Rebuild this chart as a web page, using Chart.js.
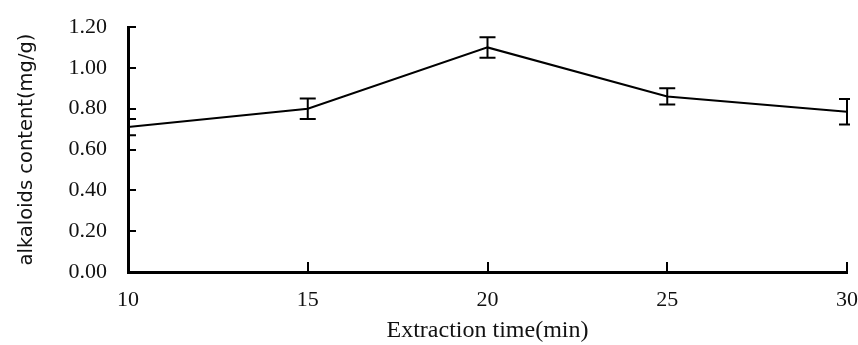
<!DOCTYPE html>
<html>
<head>
<meta charset="utf-8">
<script src="https://cdn.jsdelivr.net/npm/chart.js@4"></script>
<style>
  html, body { margin: 0; padding: 0; background: #fff; }
  #wrap { width: 858px; height: 345px; position: relative; }
</style>
</head>
<body>
<div id="wrap"><canvas id="chart"></canvas></div>
<script>
// ===================== DATA =====================

const times    = [10, 15, 20, 25, 30];            // extraction time (min)
const contents = [0.71, 0.80, 1.10, 0.86, 0.785]; // alkaloids content (mg/g)
const errors   = [0.04, 0.05, 0.05, 0.04, 0.062]; // error bar half-heights

const yTicks = [0, 0.2, 0.4, 0.6, 0.8, 1.0, 1.2];
const xTicks = [10, 15, 20, 25, 30];

// ===================== PLUGIN: error bars + inward ticks =====================

const errorBarsAndTicks = {
    id: 'errorBarsAndTicks',
    afterDatasetsDraw(chart) {
        const { ctx, scales: { x, y }, chartArea } = chart;
        ctx.save();
        ctx.strokeStyle = '#000';

        // inward tick marks
        ctx.lineWidth = 2;
        ctx.beginPath();
        yTicks.forEach(v => {
            const py = Math.round(y.getPixelForValue(v));
            ctx.moveTo(chartArea.left, py);
            ctx.lineTo(chartArea.left + 8, py);
        });
        xTicks.forEach(v => {
            const px = Math.round(x.getPixelForValue(v));
            ctx.moveTo(px, chartArea.bottom);
            ctx.lineTo(px, chartArea.bottom - 10);
        });
        ctx.stroke();

        // error bars, clipped like the original at the plot edges
        ctx.beginPath();
        ctx.rect(chartArea.left, 0, chartArea.right - chartArea.left + 3, chart.height);
        ctx.clip();
        times.forEach((t, i) => {
            const px = x.getPixelForValue(t);
            const top = y.getPixelForValue(contents[i] + errors[i]);
            const bot = y.getPixelForValue(contents[i] - errors[i]);
            ctx.beginPath();
            ctx.moveTo(px, top); ctx.lineTo(px, bot);
            ctx.moveTo(px - 8, top); ctx.lineTo(px + 8, top);
            ctx.moveTo(px - 8, bot); ctx.lineTo(px + 8, bot);
            ctx.stroke();
        });
        ctx.restore();
    }
};

// ===================== CHART =====================

const serif = '"Liberation Serif", "DejaVu Serif", serif';

new Chart(document.getElementById('chart'), {
    type: 'line',
    data: {
        datasets: [{
            data: times.map((t, i) => ({ x: t, y: contents[i] })),
            borderColor: '#000',
            borderWidth: 2,
            pointRadius: 0,
            tension: 0,
            fill: false
        }]
    },
    options: {
        responsive: true,
        maintainAspectRatio: false,
        animation: false,
        layout: { padding: { top: 27, right: 11, left: 0, bottom: 0 } },
        plugins: {
            legend: { display: false },
            tooltip: { enabled: false }
        },
        scales: {
            x: {
                type: 'linear',
                min: 10,
                max: 30,
                afterBuildTicks: s => { s.ticks = xTicks.map(v => ({ value: v })); },
                afterFit: s => { s.height = 73; s.paddingLeft = 0; s.paddingRight = 0; },
                grid: { display: false, drawTicks: false },
                border: { display: true, color: '#000', width: 3 },
                ticks: {
                    color: '#111',
                    padding: 15,
                    font: { family: serif, size: 22 }
                },
                title: {
                    display: true,
                    text: 'Extraction time(min)',
                    color: '#111',
                    padding: { top: 0, bottom: 0 },
                    font: { family: serif, size: 24 }
                }
            },
            y: {
                min: 0,
                max: 1.2,
                afterBuildTicks: s => { s.ticks = yTicks.map(v => ({ value: v })); },
                afterFit: s => { s.width = 128; s.paddingTop = 0; s.paddingBottom = 0; },
                grid: { display: false, drawTicks: false },
                border: { display: true, color: '#000', width: 3 },
                ticks: {
                    color: '#111',
                    padding: 21,
                    callback: v => v.toFixed(2),
                    font: { family: serif, size: 22 }
                },
                title: {
                    display: true,
                    text: 'alkaloids content(mg/g)',
                    color: '#111',
                    padding: { top: 15, bottom: 0 },
                    font: { family: '"DejaVu Sans", sans-serif', size: 19.5 }
                }
            }
        }
    },
    plugins: [errorBarsAndTicks]
});
</script>
</body>
</html>
